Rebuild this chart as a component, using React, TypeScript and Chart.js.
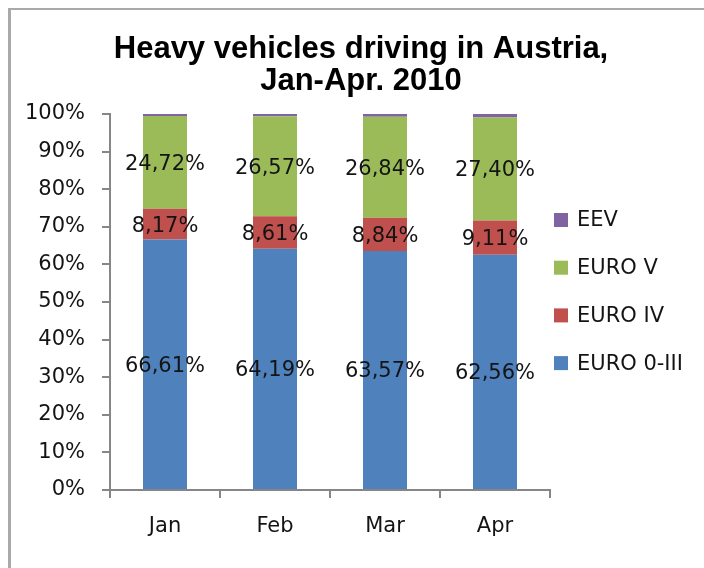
import { useEffect, useRef } from 'react';
import { Chart, registerables } from 'chart.js';

Chart.register(...registerables);

const months = ['Jan', 'Feb', 'Mar', 'Apr'];
const euro03 = [66.61, 64.19, 63.57, 62.56];
const euro4 = [8.17, 8.61, 8.84, 9.11];
const euro5 = [24.72, 26.57, 26.84, 27.4];
const eev = [0.5, 0.63, 0.75, 0.93];
const seriesNames = ['EURO 0-III', 'EURO IV', 'EURO V', 'EEV'];
const seriesColors = ['#4F81BD', '#C0504D', '#9BBB59', '#8064A2'];
const titleLines = ['Heavy vehicles driving in Austria,', 'Jan-Apr. 2010'];
const yMin = 0;
const yMax = 100;
const yStep = 10;

const FONT = '"DejaVu Sans", sans-serif';
const TEXT = '#141414';
const AXIS = '#868686';

const segLabels = {
  id: 'segLabels',
  afterDatasetsDraw(chart: any) {
    const ctx = chart.ctx;
    ctx.save();
    ctx.font = `21px ${FONT}`;
    ctx.fillStyle = TEXT;
    ctx.textAlign = 'center';
    ctx.textBaseline = 'middle';
    [0, 1, 2].forEach((di) => {
      const meta = chart.getDatasetMeta(di);
      meta.data.forEach((bar: any, i: number) => {
        const v = chart.data.datasets[di].data[i] as number;
        const { x, y, base } = bar.getProps(['x', 'y', 'base'], true);
        ctx.fillText(v.toFixed(2).replace('.', ',') + '%', x, (y + base) / 2 + 2);
      });
    });
    ctx.restore();
  },
};

const titleAndLegend = {
  id: 'titleAndLegend',
  afterDraw(chart: any) {
    const ctx = chart.ctx;
    ctx.save();
    ctx.fillStyle = '#000';
    ctx.font = `bold 31px "Liberation Sans", Arial, sans-serif`;
    ctx.textAlign = 'center';
    ctx.textBaseline = 'alphabetic';
    ctx.fillText(titleLines[0], 350, 48);
    ctx.fillText(titleLines[1], 350, 80);

    // legend (reversed order: top series first)
    ctx.font = `21px ${FONT}`;
    ctx.textAlign = 'left';
    ctx.textBaseline = 'middle';
    const order = [3, 2, 1, 0];
    order.forEach((si, k) => {
      const cy = 210 + k * 47.7;
      ctx.fillStyle = seriesColors[si];
      ctx.fillRect(543, cy - 7, 14, 14);
      ctx.fillStyle = TEXT;
      ctx.fillText(seriesNames[si], 566, cy + 1);
    });
    ctx.restore();
  },
};

export default function App() {
  const ref = useRef<HTMLCanvasElement>(null);

  useEffect(() => {
    const canvas = ref.current;
    if (!canvas) return;
    const values = [euro03, euro4, euro5, eev];
    const chart = new Chart(canvas, {
      type: 'bar',
      data: {
        labels: months,
        datasets: values.map((d, i) => ({
          label: seriesNames[i],
          data: d,
          backgroundColor: seriesColors[i],
          borderWidth: 0,
          barPercentage: 0.4,
          categoryPercentage: 1,
        })),
      },
      options: {
        responsive: false,
        animation: false,
        layout: { padding: { left: 0, top: 104, right: 154, bottom: 0 } },
        plugins: {
          legend: { display: false },
          title: { display: false },
          tooltip: { enabled: false },
        },
        scales: {
          x: {
            stacked: true,
            afterFit: (scale: any) => {
              scale.height = 78;
            },
            grid: {
              display: true,
              offset: true,
              drawOnChartArea: false,
              drawTicks: true,
              tickLength: 8,
              color: AXIS,
              lineWidth: 2,
            },
            border: { display: true, color: AXIS, width: 2 },
            ticks: {
              color: TEXT,
              font: { family: FONT, size: 21 },
              padding: 16,
            },
          },
          y: {
            stacked: true,
            min: yMin,
            max: yMax,
            afterFit: (scale: any) => {
              scale.width = 99;
            },
            grid: {
              display: true,
              drawOnChartArea: false,
              drawTicks: true,
              tickLength: 8,
              color: AXIS,
              lineWidth: 2,
            },
            border: { display: true, color: AXIS, width: 2 },
            ticks: {
              stepSize: yStep,
              color: TEXT,
              font: { family: FONT, size: 21 },
              padding: 17,
              callback: (v: any) => `${v}%`,
            },
          },
        },
      },
      plugins: [segLabels, titleAndLegend],
    });
    return () => chart.destroy();
  }, []);

  return (
    <div
      style={{
        position: 'fixed',
        left: 8,
        top: 8,
        width: 693,
        height: 558,
        borderTop: '2px solid #a9a9a9',
        borderLeft: '3px solid #a9a9a9',
        background: '#fff',
      }}
    >
      <canvas ref={ref} width={693} height={558} style={{ display: 'block' }} />
    </div>
  );
}
